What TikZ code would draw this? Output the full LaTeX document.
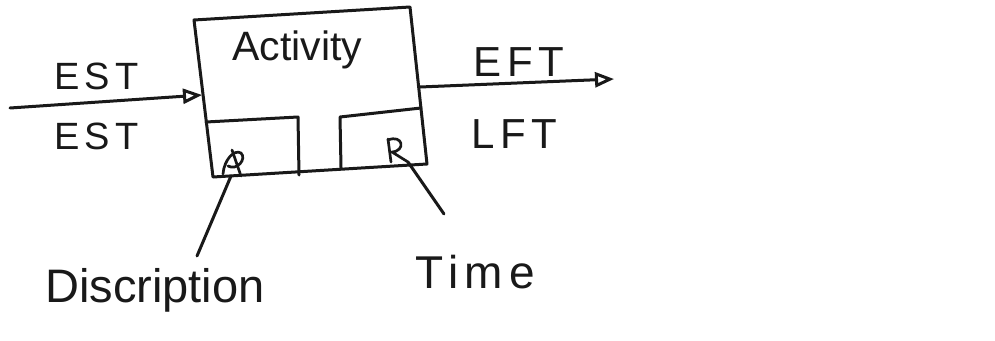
\documentclass[tikz,border=0pt]{standalone}
\usepackage{fontspec}
\setmainfont{Liberation Sans}
\newfontfamily\wide[LetterSpace=14]{Liberation Sans}
\usetikzlibrary{arrows.meta}
\begin{document}
\begin{tikzpicture}[x=1pt,y=-1pt,
  pen/.style={line width=3pt, line cap=round, line join=round, draw=black!90},
  thinpen/.style={line width=2.7pt, line cap=round, line join=round, draw=black!90},
  lbl/.style={anchor=base west, inner sep=0pt, text=black!90},
  tip/.style={-{Triangle[open,length=19pt,width=15pt,line width=3pt]}}]
\useasboundingbox[fill=white] (0,0) rectangle (995,340);

% activity box (drawn freehand, slightly skewed)
\coordinate (tl) at (194,20);
\coordinate (tr) at (410,7);
\coordinate (br) at (427,164);
\coordinate (bl) at (213,177);
\draw[pen] (tl) -- (tr) -- (br) -- (bl) -- cycle;

% lower cells: description (left) and time (right)
\draw[pen] (206,122) -- (298,117) -- (299,175);
\draw[pen] (341,168) -- (340,117) -- (421,108);

% marks inside the cells
\coordinate (dmark) at (231,176);
\draw[thinpen] (223,174) .. controls (224,160) and (234,149) .. (241,153)
  .. controls (247,159) and (237,171) .. (228,166);
\draw[thinpen] (232,150) -- (241,176);
\coordinate (tmark) at (408,162);
\draw[thinpen] (388,139) -- (391,162);
\draw[thinpen] (388,140) .. controls (403,134) and (406,151) .. (392,152)
  -- (tmark);

% title of the box
\node[lbl, font=\fontsize{41}{41}\selectfont] (act) at (232,60) {Activity};

% incoming arrow with start times
\coordinate (inS) at (10,108);
\coordinate (inE) at (202,95);
\draw[pen, tip] (inS) -- (inE);
\node[lbl, font=\wide\fontsize{38}{38}\selectfont] (est1) at (54,89) {EST};
\node[lbl, font=\wide\fontsize{38}{38}\selectfont] (est2) at (54,149) {EST};

% outgoing arrow with finish times
\coordinate (outS) at (420,87);
\coordinate (outE) at (614,79);
\draw[pen, tip] (outS) -- (outE);
\node[lbl, font=\wide\fontsize{42}{42}\selectfont] (eft) at (473,76) {EFT};
\node[lbl, font=\wide\fontsize{42}{42}\selectfont] (lft) at (471,148) {LFT};

% callouts
\node[lbl, font=\fontsize{47}{47}\selectfont] (desc) at (45,302) {Discription};
\node[lbl, font=\wide\fontsize{46}{46}\selectfont] (time) at (415,288) {Time};
\coordinate (descEnd) at (197,256);
\coordinate (timeEnd) at (444,214);
\draw[pen] (dmark) -- (descEnd);
\draw[pen] (tmark) -- (timeEnd);
\end{tikzpicture}
\end{document}
